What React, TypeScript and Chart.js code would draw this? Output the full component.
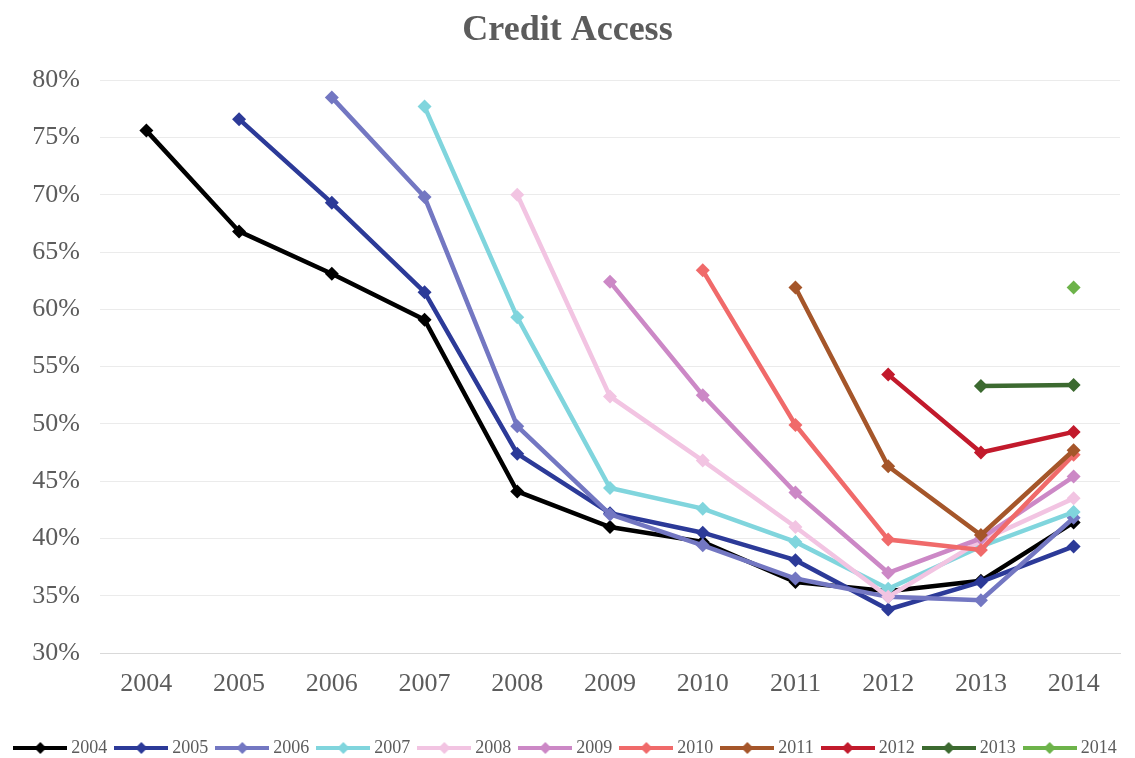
import React, { useEffect, useRef } from 'react';
import { Chart, registerables } from 'chart.js';
Chart.register(...registerables);

const years = ['2004', '2005', '2006', '2007', '2008', '2009', '2010', '2011', '2012', '2013', '2014'];
const yTicks = [30, 35, 40, 45, 50, 55, 60, 65, 70, 75, 80];

const s2004 = [75.6, 66.8, 63.1, 59.1, 44.1, 41.0, 39.7, 36.2, 35.4, 36.3, 41.4];
const s2005 = [null, 76.6, 69.3, 61.5, 47.4, 42.2, 40.5, 38.1, 33.8, 36.2, 39.3];
const s2006 = [null, null, 78.5, 69.8, 49.8, 42.1, 39.4, 36.5, 34.9, 34.6, 41.8];
const s2007 = [null, null, null, 77.7, 59.3, 44.4, 42.6, 39.7, 35.6, 39.3, 42.3];
const s2008 = [null, null, null, null, 70.0, 52.4, 46.8, 41.0, 34.9, 39.8, 43.5];
const s2009 = [null, null, null, null, null, 62.4, 52.5, 44.0, 37.0, 40.0, 45.4];
const s2010 = [null, null, null, null, null, null, 63.4, 49.9, 39.9, 39.0, 47.3];
const s2011 = [null, null, null, null, null, null, null, 61.9, 46.3, 40.3, 47.7];
const s2012 = [null, null, null, null, null, null, null, null, 54.3, 47.5, 49.3];
const s2013 = [null, null, null, null, null, null, null, null, null, 53.3, 53.4];
const s2014 = [null, null, null, null, null, null, null, null, null, null, 61.9];

const seriesNames = ['2004', '2005', '2006', '2007', '2008', '2009', '2010', '2011', '2012', '2013', '2014'];
const seriesData = [s2004, s2005, s2006, s2007, s2008, s2009, s2010, s2011, s2012, s2013, s2014];
const seriesColors = [
  '#000000', '#2c3a98', '#7377c2', '#80d5dd', '#f2c4e2', '#cc88c6',
  '#f06a6a', '#a5562a', '#c21a2c', '#3c6a30', '#6db34a',
];

const FONT = '"Liberation Serif", "Times New Roman", serif';
const GRAY = '#5c5c5c';

function makeLegendImage(color: string): HTMLCanvasElement {
  const c = document.createElement('canvas');
  c.width = 54;
  c.height = 14;
  const ctx = c.getContext('2d')!;
  ctx.strokeStyle = color;
  ctx.lineWidth = 4;
  ctx.beginPath();
  ctx.moveTo(0, 7);
  ctx.lineTo(54, 7);
  ctx.stroke();
  ctx.fillStyle = color;
  ctx.beginPath();
  ctx.moveTo(27, 1);
  ctx.lineTo(33, 7);
  ctx.lineTo(27, 13);
  ctx.lineTo(21, 7);
  ctx.closePath();
  ctx.fill();
  return c;
}

export default function App() {
  const ref = useRef<HTMLCanvasElement>(null);

  useEffect(() => {
    if (!ref.current) return;
    const images = seriesColors.map(makeLegendImage);
    const n = seriesNames.length;
    const chart = new Chart(ref.current, {
      type: 'line',
      data: {
        labels: years,
        datasets: seriesNames.map((name, i) => ({
          label: name,
          data: seriesData[i],
          borderColor: seriesColors[i],
          backgroundColor: seriesColors[i],
          borderWidth: 4.5,
          pointStyle: 'rectRot',
          pointRadius: 7,
          pointBorderWidth: 0,
          pointBackgroundColor: seriesColors[i],
          tension: 0,
          spanGaps: false,
          order: n - i,
          yAxisID: 'y',
        })),
      },
      options: {
        animation: false,
        responsive: true,
        maintainAspectRatio: false,
        layout: { padding: { left: 0, right: 0, top: 0, bottom: -9 } },
        plugins: {
          title: {
            display: true,
            text: 'Credit Access',
            color: GRAY,
            font: { family: FONT, size: 36, weight: 'bold' },
            padding: { top: 9, bottom: 28 },
          },
          legend: {
            position: 'bottom',
            labels: {
              usePointStyle: true,
              pointStyleWidth: 44,
              color: GRAY,
              font: { family: FONT, size: 18 },
              padding: 12,
              sort: (a: any, b: any) => a.datasetIndex - b.datasetIndex,
              generateLabels: (ch: any) => {
                const items = Chart.defaults.plugins.legend.labels.generateLabels(ch);
                return items.map((it: any) => ({ ...it, pointStyle: images[it.datasetIndex] }));
              },
            },
          },
          tooltip: { enabled: false },
        },
        scales: {
          x: {
            offset: true,
            grid: { display: false, drawTicks: false },
            border: { display: true, color: '#d9d9d9' },
            ticks: { color: GRAY, font: { family: FONT, size: 26 }, padding: 16 },
            afterFit: (s: any) => {
              s.height = 74;
            },
          },
          y: {
            min: 30,
            max: 80,
            afterBuildTicks: (axis: any) => {
              axis.ticks = yTicks.map((v) => ({ value: v }));
            },
            grid: { color: '#ebebeb', drawTicks: false },
            border: { display: false },
            ticks: {
              color: GRAY,
              font: { family: FONT, size: 26 },
              padding: 20,
              callback: (v: any) => `${v}%`,
            },
            afterFit: (s: any) => {
              s.width = 100;
            },
          },
          yR: {
            display: true,
            position: 'right',
            min: 30,
            max: 80,
            grid: { display: false, drawTicks: false },
            border: { display: false },
            ticks: { display: false },
            afterFit: (s: any) => {
              s.width = 15;
            },
          },
        },
      },
    });
    return () => chart.destroy();
  }, []);

  return (
    <div style={{ position: 'absolute', left: 0, top: 0, width: 1135, height: 758, background: '#fff' }}>
      <canvas ref={ref} />
    </div>
  );
}
